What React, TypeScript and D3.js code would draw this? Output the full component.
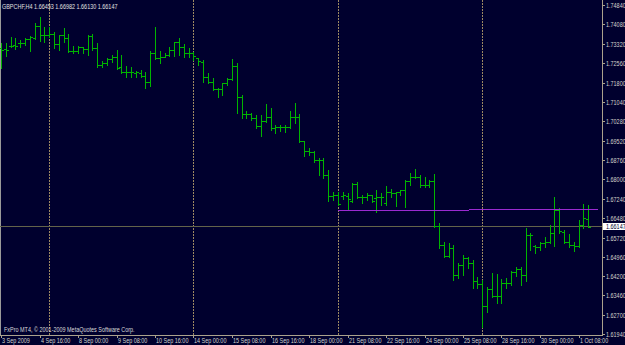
import React from "react";
import * as d3 from "d3";

const W = 625;
const H = 345;

const symbolName = "GBPCHF,H4";
const copyright = "FxPro MT4, \u00a9 2001-2009 MetaQuotes Software Corp.";

const opens = [
  1.73166, 1.73103, 1.73232, 1.73271, 1.73338, 1.73338, 1.73495, 1.73558, 1.74028, 1.73664,
  1.73664, 1.73691, 1.73311, 1.73652, 1.73534, 1.73048, 1.73048, 1.73181, 1.73103, 1.73624,
  1.73142, 1.72487, 1.72577, 1.72711, 1.72813, 1.72397, 1.72201, 1.72224, 1.72185, 1.72185,
  1.72056, 1.71832, 1.72946, 1.7275, 1.72813, 1.72879, 1.73075, 1.73377, 1.73205, 1.72969,
  1.72946, 1.72742, 1.72617, 1.72005, 1.7182, 1.71534, 1.71534, 1.71769, 1.71926, 1.72448,
  1.71244, 1.70566, 1.70566, 1.70397, 1.70095, 1.70291, 1.7046, 1.70005, 1.70044, 1.70068,
  1.70068, 1.70436, 1.70436, 1.69507, 1.69115, 1.69087, 1.68762, 1.68762, 1.68173, 1.6735,
  1.67389, 1.6735, 1.6735, 1.67166, 1.6782, 1.67322, 1.67322, 1.67389, 1.6726, 1.67299,
  1.67064, 1.67495, 1.67456, 1.67495, 1.67585, 1.6795, 1.68107, 1.68107, 1.67781, 1.67781,
  1.6795, 1.66173, 1.65428, 1.64997, 1.65299, 1.64252, 1.64644, 1.64907, 1.64711, 1.64028,
  1.63899, 1.63036, 1.63691, 1.63428, 1.63428, 1.6395, 1.6395, 1.64381, 1.64475, 1.64252,
  1.6582, 1.65389, 1.65338, 1.65495, 1.65558, 1.65911, 1.66801, 1.6595, 1.65558, 1.65428,
  1.65389, 1.66213, 1.66453,
];

const highs = [
  1.73338, 1.73338, 1.73573, 1.73534, 1.73467, 1.73534, 1.73624, 1.74122, 1.74358, 1.73989,
  1.73989, 1.73793, 1.73664, 1.73926, 1.73703, 1.73232, 1.73232, 1.73205, 1.73664, 1.73703,
  1.73338, 1.72656, 1.72773, 1.72879, 1.73075, 1.72879, 1.72448, 1.72397, 1.72264, 1.72291,
  1.72201, 1.73048, 1.73966, 1.73036, 1.72969, 1.73181, 1.73401, 1.73534, 1.73311, 1.73166,
  1.73009, 1.7275, 1.72683, 1.72162, 1.71966, 1.71573, 1.71769, 1.71966, 1.72711, 1.72577,
  1.71311, 1.70695, 1.70593, 1.70526, 1.70526, 1.70958, 1.70789, 1.70134, 1.70134, 1.70134,
  1.70683, 1.71009, 1.70566, 1.69507, 1.6922, 1.69115, 1.68828, 1.68828, 1.68369, 1.67519,
  1.67507, 1.67507, 1.67468, 1.67848, 1.67911, 1.67389, 1.67456, 1.67389, 1.67585, 1.67479,
  1.67742, 1.67613, 1.67519, 1.67585, 1.67977, 1.68264, 1.68397, 1.68173, 1.68107, 1.67977,
  1.68213, 1.66303, 1.65558, 1.65518, 1.65428, 1.64711, 1.65036, 1.64969, 1.6484, 1.64162,
  1.64056, 1.63793, 1.64319, 1.64291, 1.64083, 1.64122, 1.6442, 1.64554, 1.64554, 1.66083,
  1.65911, 1.65428, 1.65558, 1.65754, 1.66213, 1.67322, 1.66868, 1.66017, 1.6586, 1.65558,
  1.66409, 1.67036, 1.66982,
];

const lows = [
  1.72358, 1.72852, 1.73181, 1.73115, 1.73205, 1.7326, 1.73036, 1.73495, 1.7344, 1.73401,
  1.73573, 1.73166, 1.73075, 1.73377, 1.73009, 1.72969, 1.72969, 1.72946, 1.72879, 1.73075,
  1.72397, 1.72397, 1.72487, 1.72617, 1.72319, 1.72162, 1.72005, 1.72028, 1.72028, 1.72005,
  1.71573, 1.71664, 1.72722, 1.72577, 1.72789, 1.72852, 1.72852, 1.72879, 1.72813, 1.72813,
  1.72683, 1.72487, 1.71832, 1.71769, 1.71507, 1.71244, 1.71311, 1.71703, 1.71899, 1.70617,
  1.70397, 1.70397, 1.7033, 1.70005, 1.69703, 1.70264, 1.69938, 1.69832, 1.69911, 1.69871,
  1.70005, 1.70224, 1.69479, 1.68918, 1.68958, 1.68695, 1.68173, 1.68044, 1.67166, 1.67193,
  1.66997, 1.67232, 1.66801, 1.67126, 1.6726, 1.67087, 1.67193, 1.67126, 1.66734, 1.66997,
  1.66997, 1.67322, 1.66958, 1.67389, 1.6693, 1.67781, 1.68044, 1.67691, 1.67715, 1.67715,
  1.66146, 1.65299, 1.64969, 1.64946, 1.64056, 1.64122, 1.64252, 1.64514, 1.6373, 1.6373,
  1.62201, 1.62813, 1.63377, 1.63166, 1.63166, 1.6373, 1.6386, 1.64213, 1.6386, 1.64028,
  1.65232, 1.65126, 1.65232, 1.65362, 1.65518, 1.65389, 1.65911, 1.65495, 1.65362, 1.65205,
  1.65362, 1.66083, 1.6613,
];

const closes = [
  1.73075, 1.73075, 1.73232, 1.73232, 1.73338, 1.73495, 1.73573, 1.74028, 1.73664, 1.73664,
  1.73691, 1.73311, 1.73652, 1.73534, 1.73048, 1.73048, 1.73181, 1.73103, 1.73624, 1.73142,
  1.72487, 1.72577, 1.72711, 1.72813, 1.72358, 1.72201, 1.72224, 1.72224, 1.72224, 1.72056,
  1.71832, 1.72946, 1.7275, 1.72813, 1.72879, 1.73075, 1.73377, 1.73205, 1.72969, 1.72946,
  1.7284, 1.72656, 1.72005, 1.7182, 1.71534, 1.71534, 1.71769, 1.71926, 1.72448, 1.71244,
  1.70566, 1.70566, 1.70397, 1.70095, 1.70291, 1.7046, 1.70005, 1.70044, 1.70068, 1.70068,
  1.70436, 1.70436, 1.69507, 1.69115, 1.69087, 1.68762, 1.68762, 1.68173, 1.6735, 1.67389,
  1.67036, 1.67389, 1.67232, 1.6782, 1.67322, 1.67322, 1.67389, 1.67166, 1.67299, 1.67299,
  1.67495, 1.67456, 1.67495, 1.67585, 1.6795, 1.68107, 1.68107, 1.67781, 1.67781, 1.6795,
  1.66173, 1.65428, 1.64997, 1.65299, 1.64252, 1.64644, 1.64907, 1.64711, 1.64028, 1.63899,
  1.63036, 1.63691, 1.63428, 1.63428, 1.6395, 1.6395, 1.64381, 1.64475, 1.64252, 1.6582,
  1.6582, 1.65338, 1.65495, 1.65558, 1.65911, 1.66801, 1.65977, 1.65558, 1.65428, 1.65389,
  1.66213, 1.66475, 1.66147,
];

const priceTicks = [
  1.7484, 1.7408, 1.7332, 1.7256, 1.718, 1.7104, 1.7028, 1.6952, 1.6876, 1.68,
  1.6724, 1.6648, 1.6572, 1.6496, 1.642, 1.6346, 1.627, 1.6194,
];

const timeLabels = [
  "3 Sep 2009", "4 Sep 16:00", "8 Sep 00:00", "9 Sep 08:00", "10 Sep 16:00",
  "14 Sep 00:00", "15 Sep 08:00", "16 Sep 16:00", "18 Sep 00:00", "21 Sep 08:00",
  "22 Sep 16:00", "24 Sep 00:00", "25 Sep 08:00", "28 Sep 16:00", "30 Sep 00:00",
  "1 Oct 08:00",
];
const timeLabelBars = [0, 8, 16, 24, 32, 40, 48, 56, 64, 72, 80, 88, 96, 104, 112, 120];
const separatorBars = [10, 40, 70, 100];
const trendBars = [70, 124];
const trendPrices = [1.66781, 1.6682];

const BG = "#00002e";
const BAR = "#00b400";
const AXIS = "#aaa28c";
const TEXT = "#d4d4cc";
const FONT = "'Liberation Sans', Arial, sans-serif";

function Label({ x, y, children, fill = TEXT }: { x: number; y: number; children: any; fill?: string }) {
  return (
    <text
      transform={`translate(${x},${y}) scale(0.78,1)`}
      fontFamily={FONT}
      fontSize={7}
      fill={fill}
    >
      {children}
    </text>
  );
}

export default function App() {
  const plotRight = 602;
  const plotBottom = 335;
  const y = d3.scaleLinear().domain([1.6194, 1.7484]).range([333.95, 5]);
  const x = d3.scaleLinear().domain([0, 122]).range([1.5, 588.625]);
  const n = closes.length;
  const last = n - 1;
  const fmt = d3.format(".5f");
  const header = `${symbolName}  ${fmt(opens[last])} ${fmt(highs[last])} ${fmt(lows[last])} ${fmt(closes[last])}`;
  const cur = closes[last];
  const curY = Math.floor(y(cur));

  const bars = d3.range(n).map((i) => {
    const bx = Math.floor(x(i));
    const yh = Math.round(y(highs[i]));
    const yl = Math.round(y(lows[i]));
    const yo = Math.round(y(opens[i]));
    const yc = Math.round(y(closes[i]));
    return (
      <g key={i}>
        <rect x={bx} y={yh} width={1} height={Math.max(1, yl - yh + 1)} fill={BAR} />
        <rect x={bx - 2} y={yo} width={2} height={1} fill={BAR} />
        <rect x={bx + 1} y={yc} width={2} height={1} fill={BAR} />
      </g>
    );
  });

  const trendLine = d3.line<number>()
    .x((_, k) => x(trendBars[k]))
    .y((p) => y(p));

  return (
    <svg
      width={W}
      height={H}
      style={{ position: "absolute", left: 0, top: 0, display: "block" }}
      shapeRendering="crispEdges"
    >
      <rect x={0} y={0} width={W} height={H} fill={BG} />
      {/* frame */}
      <rect x={0} y={0} width={1} height={plotBottom} fill="#9a9a9a" />
      {/* separators */}
      {separatorBars.map((b) => (
        <line
          key={b}
          x1={Math.floor(x(b)) + 0.5}
          x2={Math.floor(x(b)) + 0.5}
          y1={0}
          y2={plotBottom}
          stroke="#9c8862"
          strokeDasharray="2,1"
        />
      ))}
      {/* current price line */}
      <rect x={0} y={curY} width={plotRight} height={1} fill="#63634a" />
      {bars}
      {/* trend line */}
      <path d={trendLine(trendPrices) || ""} stroke="#9a2ad0" strokeWidth={1} fill="none" />
      {/* axes */}
      <rect x={plotRight} y={0} width={1} height={plotBottom + 1} fill={AXIS} />
      <rect x={0} y={plotBottom} width={plotRight + 1} height={1} fill={AXIS} />
      {priceTicks.map((p) => {
        const ty = Math.round(y(p));
        return (
          <g key={p}>
            <rect x={plotRight + 1} y={ty} width={2} height={1} fill={AXIS} />
            <Label x={606} y={ty + 2.6}>{fmt(p)}</Label>
          </g>
        );
      })}
      {/* current price box */}
      <rect x={plotRight + 1} y={curY - 3} width={W - plotRight} height={7} fill="#ffffff" />
      <Label x={606} y={curY + 2.6} fill="#00002e">{fmt(cur)}</Label>
      {timeLabels.map((t, k) => {
        const bx = Math.floor(x(timeLabelBars[k]));
        return (
          <g key={t}>
            <rect x={bx} y={plotBottom + 1} width={1} height={2} fill={AXIS} />
            <Label x={bx + 1} y={343}>{t}</Label>
          </g>
        );
      })}
      <Label x={2} y={9} fill="#e0e0e0">{header}</Label>
      <Label x={4} y={331.5} fill="#d8d8d8">{copyright}</Label>
    </svg>
  );
}
